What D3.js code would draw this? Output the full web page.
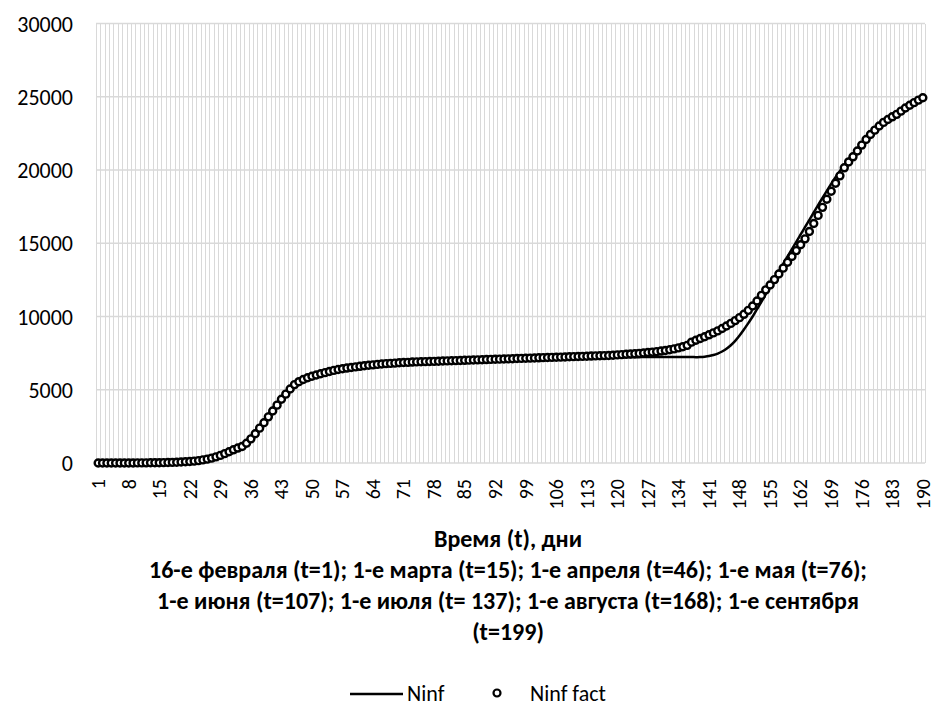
<!DOCTYPE html>
<html>
<head>
<meta charset="utf-8">
<script src="https://cdn.jsdelivr.net/npm/d3@7"></script>
<style>
  body { margin: 0; background: #fff; }
  text { font-family: Carlito, Lato, sans-serif; fill: #000; }
</style>
</head>
<body>
<div id="chart"></div>
<script>
// days t = 1..190
var days = d3.range(1, 191);

// Ninf fact (markers)
var ninfFact = [
  0,0,0,0,0,0,0,3,5,6,
  8,10,14,18,22,28,35,44,55,68,
  85,105,130,165,210,265,335,420,520,640,
  770,900,1020,1130,1350,1650,2000,2380,2750,3150,
  3550,3950,4350,4700,5050,5350,5550,5700,5820,5920,
  6010,6090,6170,6250,6320,6380,6430,6480,6520,6560,
  6600,6640,6670,6700,6730,6760,6780,6800,6820,6840,
  6860,6870,6890,6900,6910,6920,6930,6940,6950,6960,
  6970,6980,6990,7000,7010,7020,7030,7040,7050,7060,
  7070,7080,7090,7100,7110,7120,7130,7140,7150,7160,
  7170,7180,7190,7200,7210,7220,7230,7240,7250,7260,
  7270,7280,7290,7300,7310,7320,7330,7340,7360,7380,
  7400,7420,7440,7460,7480,7510,7540,7570,7600,7640,
  7680,7730,7790,7860,7940,8030,8250,8380,8500,8620,
  8750,8880,9020,9180,9350,9530,9720,9920,10150,10420,
  10720,11060,11440,11820,12150,12520,12900,13300,13700,14100,
  14500,14900,15300,15800,16350,16900,17450,18000,18550,19100,
  19600,20150,20550,20900,21300,21700,22080,22420,22720,23000,
  23250,23450,23630,23800,24020,24230,24420,24600,24770,24930
];

// Ninf model (line)
var ninfModel = [
  0,0,0,0,1,1,2,2,3,4,
  5,7,9,12,16,21,28,37,49,64,
  80,100,125,160,205,260,330,415,515,635,
  770,920,1090,1290,1540,1840,2190,2570,2960,3360,
  3760,4150,4520,4860,5160,5420,5640,5810,5950,6060,
  6150,6230,6300,6360,6410,6460,6500,6540,6570,6600,
  6630,6660,6680,6700,6720,6740,6760,6780,6800,6820,
  6840,6850,6870,6880,6890,6900,6910,6920,6930,6940,
  6950,6960,6970,6980,6990,7000,7010,7020,7030,7040,
  7050,7060,7070,7080,7090,7100,7110,7120,7130,7140,
  7150,7160,7165,7170,7175,7180,7185,7190,7195,7200,
  7205,7205,7210,7210,7210,7215,7215,7215,7220,7220,
  7220,7220,7225,7225,7225,7230,7230,7230,7235,7235,
  7240,7240,7240,7240,7240,7240,7240,7220,7235,7260,
  7300,7370,7470,7610,7800,8040,8340,8700,9110,9550,
  10000,10500,11000,11520,12040,12560,13080,13600,14100,14600,
  15100,15600,16100,16600,17100,17600,18100,18580,19050,19500,
  19930,20340,20730,21100,21450,21780,22090,22380,22650,22900,
  23140,23360,23570,23800,24000,24190,24370,24540,24700,24850
];

var yTicks = [0, 5000, 10000, 15000, 20000, 25000, 30000];
var xTickLabels = days.filter(function(d) { return (d - 1) % 7 === 0; });

var titleLines = [
  "Время (t), дни",
  "16-е февраля (t=1); 1-е марта (t=15); 1-е апреля (t=46); 1-е мая (t=76);",
  "1-е июня (t=107); 1-е июля (t= 137); 1-е августа (t=168); 1-е сентября",
  "(t=199)"
];
var seriesNames = ["Ninf", "Ninf fact"];

var width = 933, height = 707;
var margin = { top: 23.5, right: 8, bottom: 244, left: 96 };

var svg = d3.select("#chart").append("svg")
    .attr("width", width)
    .attr("height", height);

var x = d3.scaleBand()
    .domain(days)
    .range([margin.left, width - margin.right])
    .padding(0);
var y = d3.scaleLinear()
    .domain([0, 30000])
    .range([height - margin.bottom, margin.top]);

var xc = function(d) { return x(d) + x.bandwidth() / 2; };

// vertical gridlines at every category boundary
var bounds = days.map(function(d) { return x(d); }).concat([x(190) + x.bandwidth()]);
svg.append("g")
  .selectAll("line")
  .data(bounds)
  .enter().append("line")
    .attr("x1", function(d) { return Math.round(d) + 0.5; })
    .attr("x2", function(d) { return Math.round(d) + 0.5; })
    .attr("y1", y(30000))
    .attr("y2", y(0))
    .style("stroke", "#d9d9d9")
    .style("stroke-width", 1)
    .style("shape-rendering", "crispEdges");

// horizontal gridlines
svg.append("g")
  .selectAll("line")
  .data(yTicks)
  .enter().append("line")
    .attr("x1", margin.left)
    .attr("x2", width - margin.right)
    .attr("y1", function(d) { return y(d); })
    .attr("y2", function(d) { return y(d); })
    .style("stroke", "#d9d9d9")
    .style("stroke-width", 1.5);

// y axis
var yAxis = svg.append("g")
    .attr("transform", "translate(" + (margin.left - 23) + ",0)")
    .call(d3.axisLeft(y).tickValues(yTicks).tickFormat(d3.format("d")).tickSize(0).tickPadding(0));
yAxis.select(".domain").remove();
yAxis.selectAll("text")
    .style("font-size", "22px")
    .attr("dy", "0.35em");

// x axis
var xAxis = svg.append("g")
    .attr("transform", "translate(0," + y(0) + ")")
    .call(d3.axisBottom(x).tickValues(xTickLabels).tickSize(0));
xAxis.select(".domain").remove();
xAxis.selectAll("text")
    .style("font-size", "20px")
    .attr("transform", "rotate(-90)")
    .attr("text-anchor", "end")
    .attr("x", -16)
    .attr("y", 0)
    .attr("dy", "0.34em");

// model line
var line = d3.line()
    .x(function(d, i) { return xc(days[i]); })
    .y(function(d) { return y(d); })
    .curve(d3.curveMonotoneX);

svg.append("path")
    .datum(ninfModel)
    .attr("d", line)
    .style("fill", "none")
    .style("stroke", "#000")
    .style("stroke-width", 2.5);

// fact markers
svg.append("g")
  .selectAll("circle")
  .data(ninfFact)
  .enter().append("circle")
    .attr("cx", function(d, i) { return xc(days[i]); })
    .attr("cy", function(d) { return y(d); })
    .attr("r", 3.5)
    .style("fill", "#fff")
    .style("stroke", "#000")
    .style("stroke-width", 2.4);

// axis title
var ty = [547, 578, 609, 640];
svg.append("g")
  .selectAll("text")
  .data(titleLines)
  .enter().append("text")
    .attr("x", 508)
    .attr("y", function(d, i) { return ty[i]; })
    .attr("text-anchor", "middle")
    .style("font-size", "24px")
    .style("font-weight", "bold")
    .text(function(d) { return d; });

// legend
var lg = svg.append("g");
lg.append("line")
    .attr("x1", 350).attr("x2", 403)
    .attr("y1", 694).attr("y2", 694)
    .style("stroke", "#000").style("stroke-width", 2.5);
lg.append("text")
    .attr("x", 407).attr("y", 701)
    .style("font-size", "22px")
    .text(seriesNames[0]);
lg.append("circle")
    .attr("cx", 497).attr("cy", 693).attr("r", 3.5)
    .style("fill", "#fff").style("stroke", "#000").style("stroke-width", 2.2);
lg.append("text")
    .attr("x", 530).attr("y", 701)
    .style("font-size", "22px")
    .text(seriesNames[1]);
</script>
</body>
</html>
